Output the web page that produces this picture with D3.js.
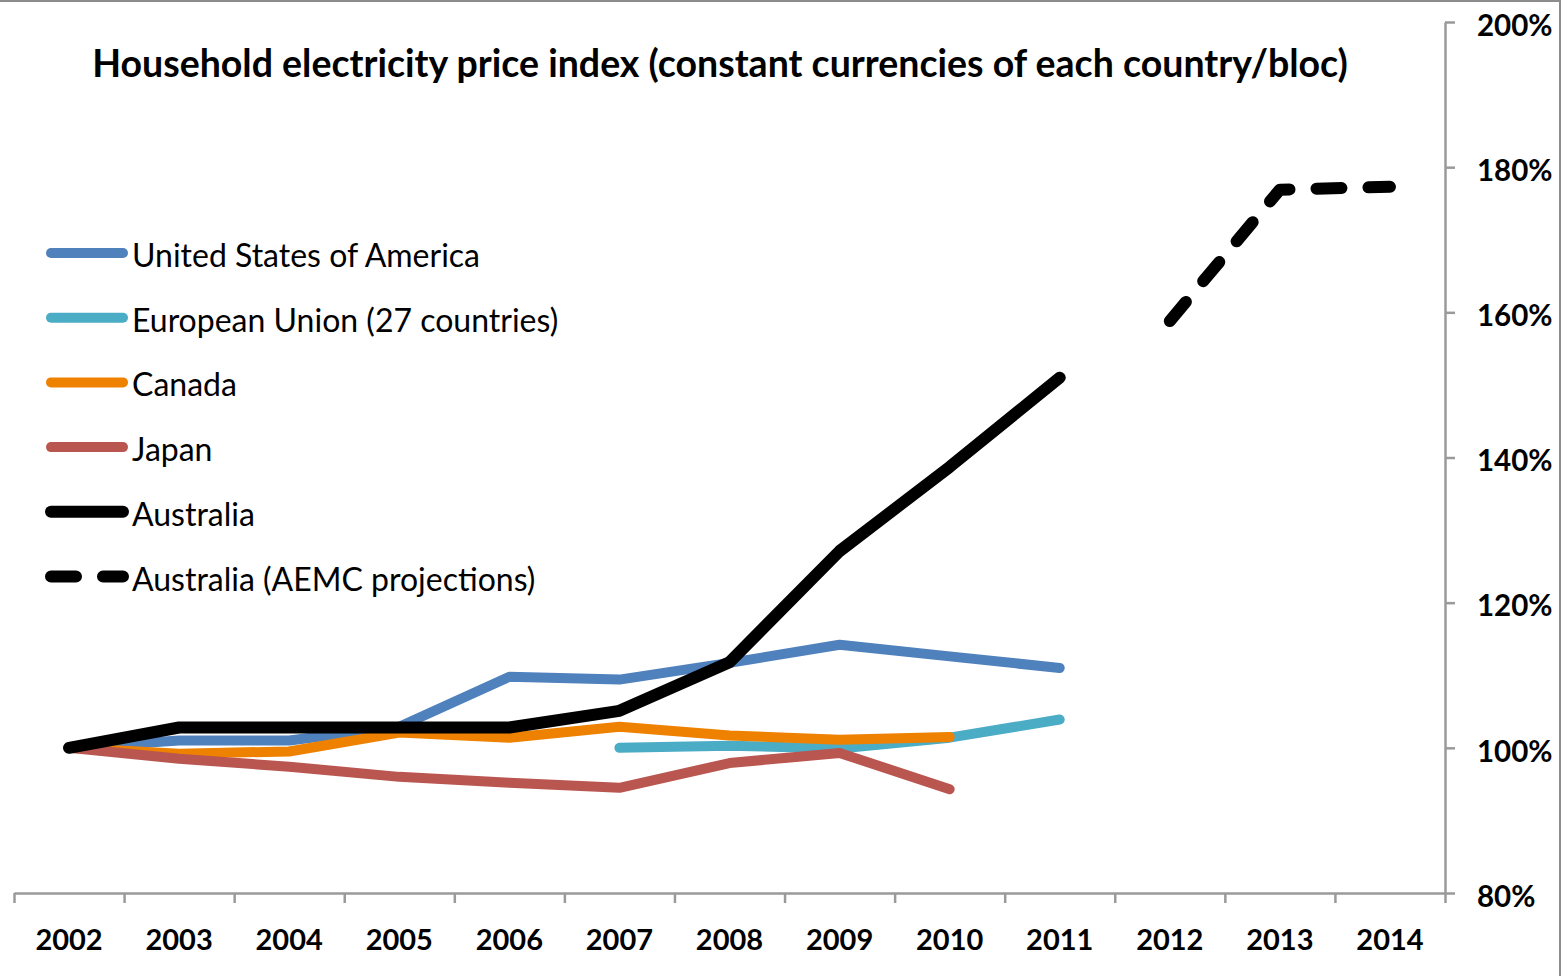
<!DOCTYPE html>
<html>
<head>
<meta charset="utf-8">
<script src="https://cdn.jsdelivr.net/npm/d3@7"></script>
<style>
  html, body { margin: 0; padding: 0; background: #fff; }
  svg { display: block; font-family: Lato, "Open Sans", sans-serif; }
</style>
</head>
<body>
<svg id="chart" width="1566" height="976"></svg>
<script>
// household electricity price index, 2002 = 100
var years = [2002, 2003, 2004, 2005, 2006, 2007, 2008, 2009, 2010, 2011, 2012, 2013, 2014];
var usa       = [100, 101.0, 101.0, 102.9, 109.8, 109.4, 111.7, 114.2, 112.6, 111.0, null, null, null];
var eu27      = [null, null, null, null, null, 100.0, 100.3, 99.9, 101.4, 103.9, null, null, null];
var canada    = [100, 99.2, 99.5, 102.1, 101.4, 102.9, 101.7, 101.1, 101.5, null, null, null, null];
var japan     = [100, 98.5, 97.4, 96.0, 95.2, 94.5, 97.9, 99.3, 94.3, null, null, null, null];
var australia = [100, 102.8, 102.8, 102.8, 102.8, 105.1, 111.8, 127.1, 138.7, 151.0, null, null, null];
var aemc      = [null, null, null, null, null, null, null, null, null, null, 158.8, 176.9, 177.3];
var yTicks = [80, 100, 120, 140, 160, 180, 200];

var series = [
  { name: "United States of America", values: usa, color: "#4F81BD", w: 10 },
  { name: "European Union (27 countries)", values: eu27, color: "#4BACC6", w: 10 },
  { name: "Canada", values: canada, color: "#EF8100", w: 10 },
  { name: "Japan", values: japan, color: "#BA5650", w: 10 },
  { name: "Australia", values: australia, color: "#000", w: 12 },
  { name: "Australia (AEMC projections)", values: aemc, color: "#000", w: 12, dash: "25 27" }
];

var svg = d3.select("#chart");
var L = 14, R = 1445, T = 22, B = 893;

var x = d3.scaleBand().domain(years).range([L, R]).paddingInner(0).paddingOuter(0);
var y = d3.scaleLinear().domain([80, 200]).range([B, T]);
var cx = function (yr) { return x(yr) + x.bandwidth() / 2; };

// chart frame (only top and right edges visible in crop)
svg.append("line").attr("x1", 0).attr("x2", 1560).attr("y1", 1).attr("y2", 1).attr("stroke", "#8c8c8c").attr("stroke-width", 2);
svg.append("line").attr("x1", 1560).attr("x2", 1560).attr("y1", 0).attr("y2", 976).attr("stroke", "#8c8c8c").attr("stroke-width", 2);

svg.append("text").attr("x", 720).attr("y", 77).attr("text-anchor", "middle")
  .attr("font-size", 37.5).attr("font-weight", 700).attr("fill", "#000")
  .text("Household electricity price index (constant currencies of each country/bloc)");

// x axis: ticks on category boundaries, labels centred
var xb = d3.scaleLinear().domain([0, years.length]).range([L, R]);
var gx = svg.append("g").attr("transform", "translate(0," + B + ")")
  .call(d3.axisBottom(xb).tickValues(d3.range(years.length + 1)).tickSize(10).tickSizeOuter(0).tickFormat(""));
gx.select(".domain").attr("stroke", "#9a9a9a").attr("stroke-width", 2.5);
gx.selectAll(".tick line").attr("stroke", "#9a9a9a").attr("stroke-width", 2.5);
svg.append("g").selectAll("text").data(years).enter().append("text")
  .attr("x", cx).attr("y", 950).attr("text-anchor", "middle")
  .attr("font-size", 29).attr("font-weight", 700).attr("fill", "#000")
  .text(function (d) { return d; });

// y axis on the right
var gy = svg.append("g").attr("transform", "translate(" + R + ",0)")
  .call(d3.axisRight(y).tickValues(yTicks).tickSize(10).tickSizeOuter(0).tickPadding(22)
    .tickFormat(function (d) { return d + "%"; }));
gy.select(".domain").attr("stroke", "#9a9a9a").attr("stroke-width", 2.5);
gy.selectAll(".tick line").attr("stroke", "#9a9a9a").attr("stroke-width", 2.5);
gy.selectAll(".tick text").attr("font-size", 29.5).attr("font-weight", 700).attr("fill", "#000")
  .attr("font-family", "Lato, sans-serif").attr("dy", "0.45em");

var line = d3.line()
  .defined(function (d) { return d.v != null; })
  .x(function (d) { return cx(d.yr); })
  .y(function (d) { return y(d.v); });

svg.append("g").selectAll("path").data(series).enter().append("path")
  .attr("d", function (s) { return line(years.map(function (yr, i) { return { yr: yr, v: s.values[i] }; })); })
  .attr("fill", "none").attr("stroke", function (s) { return s.color; })
  .attr("stroke-width", function (s) { return s.w; })
  .attr("stroke-linecap", "round").attr("stroke-linejoin", "round")
  .attr("stroke-dasharray", function (s) { return s.dash || null; });

// legend
var lg = svg.append("g").selectAll("g").data(series).enter().append("g")
  .attr("transform", function (s, i) { return "translate(0," + (253 + i * 64.7) + ")"; });
lg.append("line").attr("x1", 51).attr("x2", 123).attr("y1", 0).attr("y2", 0)
  .attr("stroke", function (s) { return s.color; })
  .attr("stroke-width", function (s) { return s.w; })
  .attr("stroke-linecap", "round")
  .attr("stroke-dasharray", function (s) { return s.dash || null; });
lg.append("text").attr("x", 132).attr("y", 14).attr("font-size", 32).attr("fill", "#000")
  .text(function (s) { return s.name; });
</script>
</body>
</html>
